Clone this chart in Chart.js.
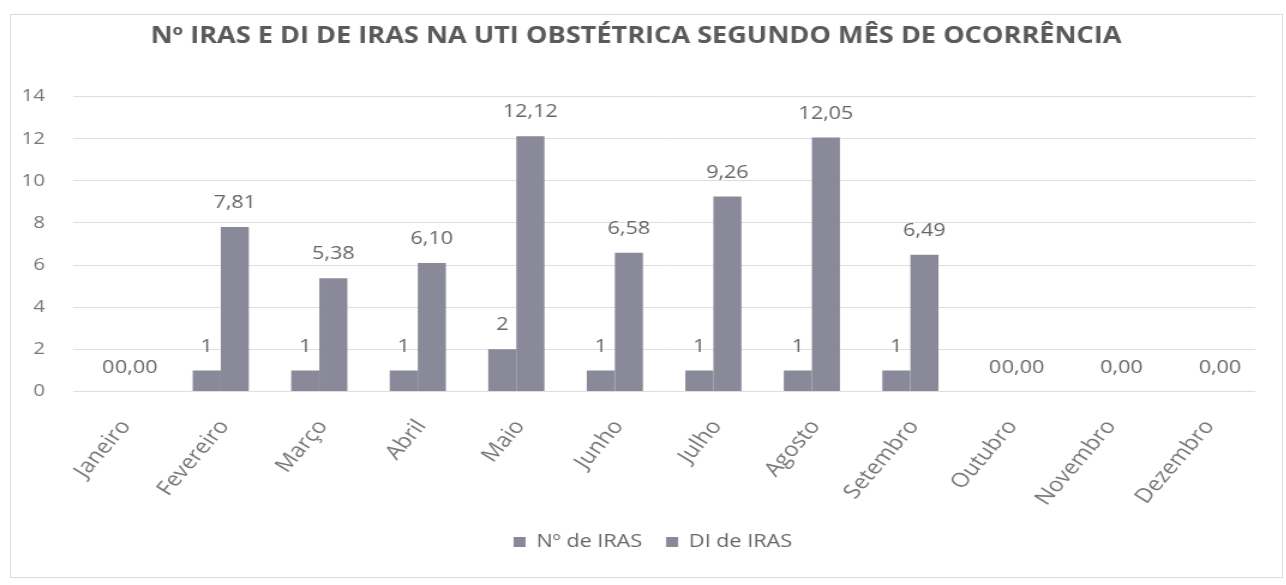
<!DOCTYPE html>
<html><head><meta charset="utf-8">
<script src="https://cdn.jsdelivr.net/npm/chart.js@4.4.0/dist/chart.umd.min.js"></script>
<style>
html,body{margin:0;padding:0;background:#fff;width:1286px;height:585px;overflow:hidden;}
#frame{position:absolute;left:10px;top:14px;width:1273px;height:564px;border:1px solid #dcdcdc;box-sizing:border-box;}
#wrap{position:absolute;left:0;top:0;width:1072px;height:585px;transform-origin:0 0;transform:scaleX(1.2);}
</style></head>
<body>
<div id="frame"></div>
<div id="wrap"><canvas id="c" width="1072" height="585"></canvas></div>
<script>
const categories = ['Janeiro','Fevereiro','Março','Abril','Maio','Junho','Julho','Agosto','Setembro','Outubro','Novembro','Dezembro'];
const nIras = [0,1,1,1,2,1,1,1,1,0,null,null];
const diIras = [0,7.81,5.38,6.10,12.12,6.58,9.26,12.05,6.49,0,0,0];
const yTicks = [0,2,4,6,8,10,12,14];
const seriesNames = ['Nº de IRAS','DI de IRAS'];
const titleText = 'Nº IRAS E DI DE IRAS NA UTI OBSTÉTRICA SEGUNDO MÊS DE OCORRÊNCIA';

const FONT = '"Open Sans", "Noto Sans", sans-serif';
const BAR = '#8a899a';

const labelPlugin = {
  id: 'vlabels',
  afterLayout(chart) {
    const lg = chart.legend;
    if (lg) { lg.left += 21; lg.right += 21; }
    const tb = chart.titleBlock;
    if (tb) { tb.left += 7; tb.right += 7; }
  },
  afterDatasetsDraw(chart) {
    const ctx = chart.ctx;
    ctx.save();
    ctx.font = '18px ' + FONT;
    ctx.fillStyle = '#666666';
    ctx.textAlign = 'center';
    ctx.textBaseline = 'middle';
    chart.data.datasets.forEach((ds, di) => {
      const meta = chart.getDatasetMeta(di);
      meta.data.forEach((el, i) => {
        const v = ds.data[i];
        if (v === null || v === undefined) return;
        const txt = di === 0 ? String(v) : v.toFixed(2).replace('.', ',');
        ctx.fillText(txt, el.x, el.y - 24);
      });
    });
    ctx.restore();
  }
};

new Chart(document.getElementById('c'), {
  type: 'bar',
  data: {
    labels: categories,
    datasets: [
      { label: seriesNames[0], data: nIras, backgroundColor: BAR, borderWidth: 0 },
      { label: seriesNames[1], data: diIras, backgroundColor: BAR, borderWidth: 0 }
    ]
  },
  options: {
    responsive: false,
    animation: false,
    devicePixelRatio: 1,
    datasets: { bar: { categoryPercentage: 0.57, barPercentage: 1.0 } },
    layout: { padding: { left: 0, right: 26, top: 0, bottom: 24 } },
    plugins: {
      title: {
        display: true, text: titleText, color: '#5a5a5a',
        font: { family: FONT, size: 22.6, weight: 'bold' },
        padding: { top: 23.4, bottom: 46 }
      },
      legend: {
        position: 'bottom',
        labels: { boxWidth: 10, boxHeight: 10, padding: 20, color: '#666666', font: { family: FONT, size: 18 } }
      },
      tooltip: { enabled: false }
    },
    scales: {
      x: {
        grid: { display: false },
        border: { display: false },
        ticks: { color: '#777777', font: { family: FONT, size: 20 }, maxRotation: 54, minRotation: 54, padding: 16, labelOffset: 3, autoSkip: false },
        afterFit: s => { s.height = 121.5; }
      },
      y: {
        min: 0, max: 14,
        grid: { color: '#dedede', drawTicks: false },
        border: { display: false },
        ticks: { color: '#777777', font: { family: FONT, size: 17 }, padding: 23.3 },
        afterBuildTicks: s => { s.ticks = yTicks.map(v => ({ value: v })); },
        afterFit: s => { s.width = 60.8; }
      }
    }
  },
  plugins: [labelPlugin]
});
</script>
</body></html>
